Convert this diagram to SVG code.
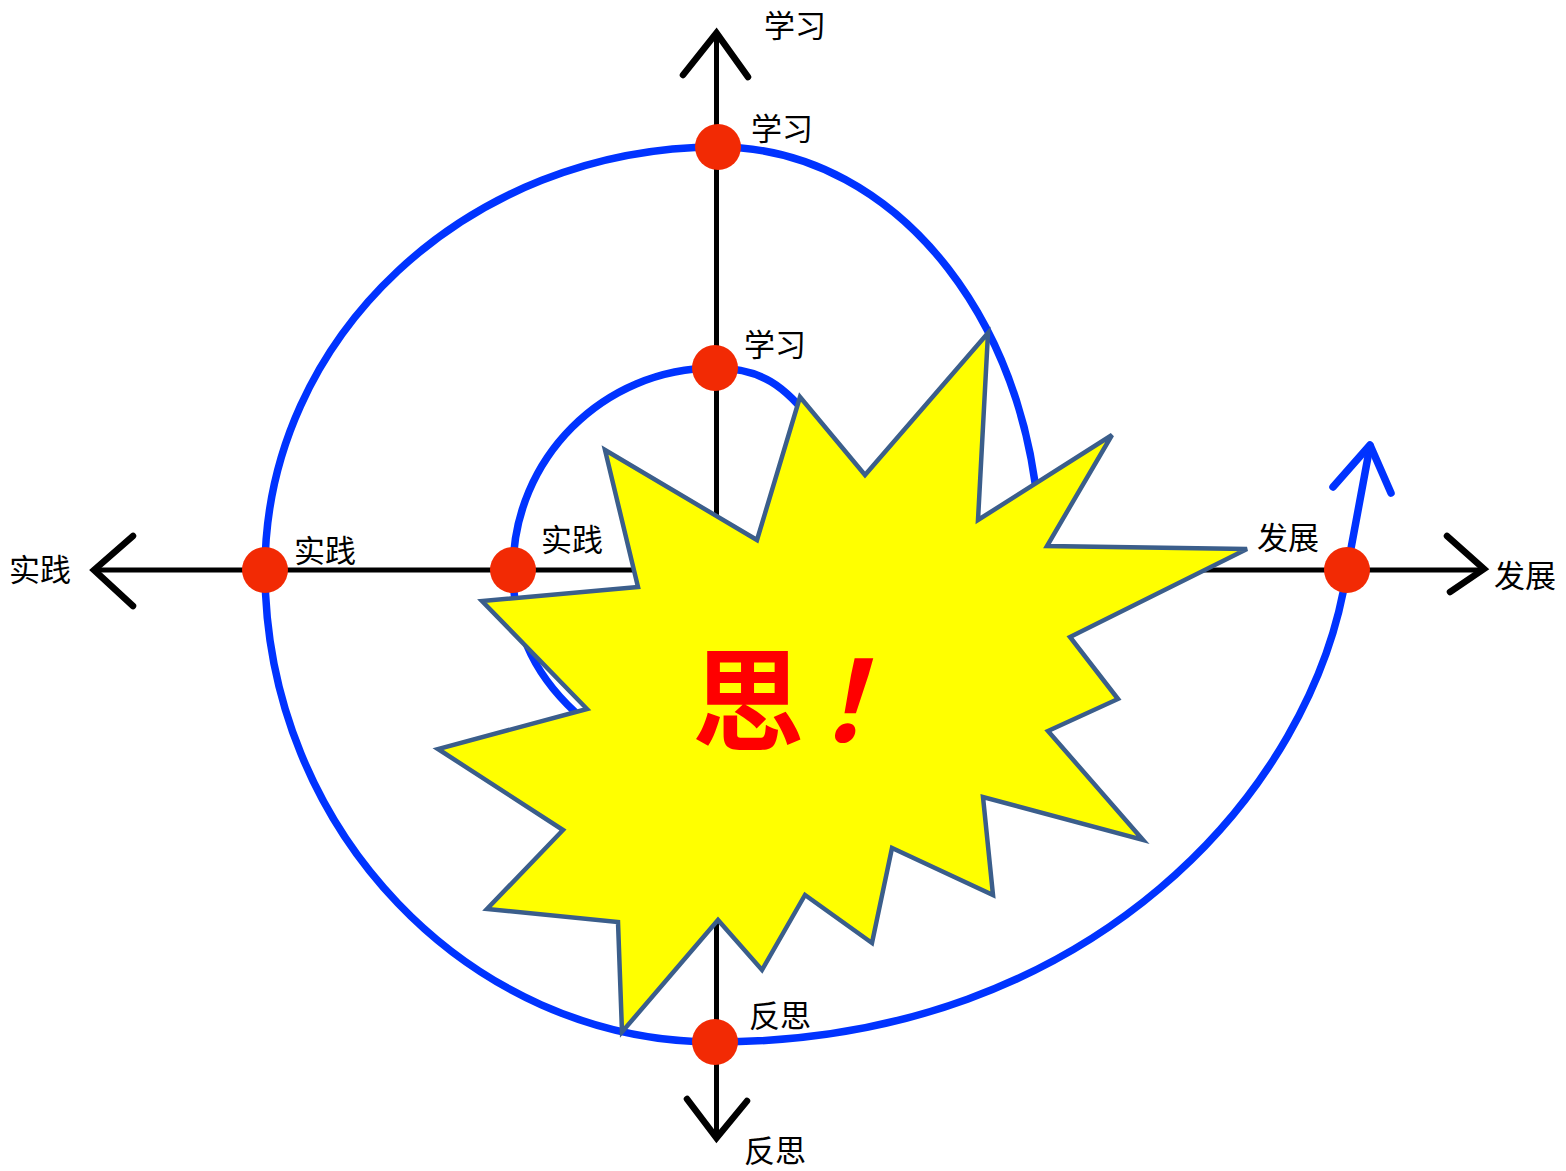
<svg xmlns="http://www.w3.org/2000/svg" width="1566" height="1171" viewBox="0 0 1566 1171">
<style>
.axis{stroke:#000;stroke-width:5;fill:none}
.head{stroke:#000;stroke-width:6.5;fill:none;stroke-linecap:round;stroke-linejoin:miter}
.spiral{stroke:#0033ff;stroke-width:7.5;fill:none;stroke-linecap:round;stroke-linejoin:round}
.dot{fill:#f22a04}
.lbl{font-family:"Noto Sans CJK SC","Noto Sans",sans-serif;font-size:31px;fill:#000}
.burst{fill:#ffff00;stroke:#3b5e8b;stroke-width:4.5;stroke-linejoin:miter}
.think{font-family:"Noto Sans CJK SC",sans-serif;font-size:112px;font-weight:700;fill:#ff0000}
</style>
<rect width="1566" height="1171" fill="#fff"/>
<g id="connectors">
  <line class="axis" x1="716.5" y1="34" x2="716.5" y2="1137"/>
  <line class="axis" x1="94" y1="570" x2="1484" y2="570"/>
  <polyline class="head" points="683,75 716.5,33 748,77"/>
  <polyline class="head" points="687,1099 716.5,1138 747,1101"/>
  <polyline class="head" points="133,536 94,570 133,606"/>
  <polyline class="head" points="1447,536 1484,569 1450,592"/>
  <path class="spiral" d="M815,425 C785,385 760,368 715,368 C603,368 513,459 513,570 C513,625 530,670 575,712 C640,770 1040,800 1040,560 C1042,333 900,147 718,147 C468,147 265,337 265,570 C265,830 470,1042 715,1042 C1090,1042 1315,790 1347,570 L1370,446"/>
  <polyline class="spiral" points="1333,487 1370,445 1391,493"/>
</g>
<g id="dots">
  <circle id="dot-learn-outer" class="dot" cx="718" cy="147" r="23"/>
  <circle id="dot-learn-inner" class="dot" cx="715" cy="368" r="23"/>
  <circle id="dot-practice-outer" class="dot" cx="265" cy="570" r="23"/>
  <circle id="dot-practice-inner" class="dot" cx="513" cy="570" r="23"/>
  <circle id="dot-reflect" class="dot" cx="715" cy="1042" r="23"/>
  <circle id="dot-develop" class="dot" cx="1347" cy="570" r="23"/>
</g>
<g id="burst">
  <polygon class="burst" points="988,333 978,520 1112,435 1047,546 1247,549 1070,637 1118,699 1048,731 1143,840 983,797 993,895 892,848 872,943 805,895 762,970 718,920 622,1032 618,922 487,909 563,830 438,749 587,709 482,601 638,587 605,450 757,540 800,397 865,475"/>
  <text class="think"><tspan x="692" y="742">思</tspan><tspan x="815" y="742" font-style="italic">！</tspan></text>
</g>
<g id="labels">
  <text id="lbl-learn-axis" class="lbl" x="764" y="37">学习</text>
  <text id="lbl-learn-outer" class="lbl" x="751" y="140">学习</text>
  <text id="lbl-learn-inner" class="lbl" x="744" y="356">学习</text>
  <text id="lbl-practice-axis" class="lbl" x="9" y="581">实践</text>
  <text id="lbl-practice-outer" class="lbl" x="294" y="562">实践</text>
  <text id="lbl-practice-inner" class="lbl" x="541" y="551">实践</text>
  <text id="lbl-develop-inner" class="lbl" x="1257" y="549">发展</text>
  <text id="lbl-develop-axis" class="lbl" x="1494" y="587">发展</text>
  <text id="lbl-reflect-inner" class="lbl" x="749" y="1027">反思</text>
  <text id="lbl-reflect-axis" class="lbl" x="744" y="1162">反思</text>
</g>
</svg>
